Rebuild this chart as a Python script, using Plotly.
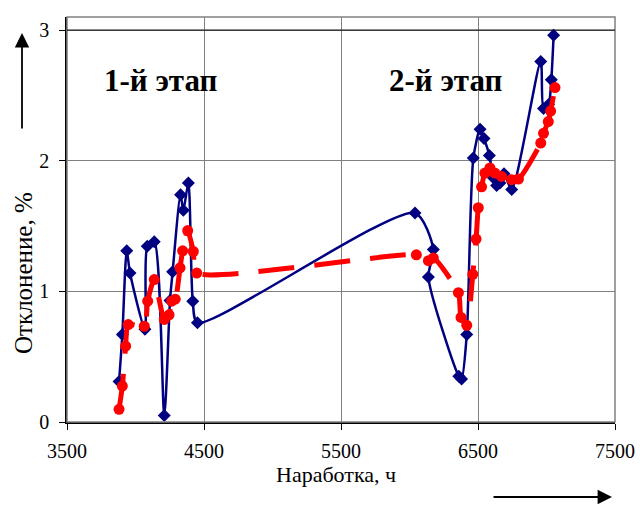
import plotly.graph_objects as go

# Blue series (diamonds)
blue_x = [3880, 3904, 3936, 3960, 4069, 4086, 4137, 4210, 4252, 4271, 4329, 4349, 4386, 4418, 4452,
          6040, 6174, 6138, 6360, 6380, 6418, 6466, 6515, 6544, 6583, 6612, 6636, 6660, 6690, 6746,
          6958, 6978, 7015, 7035, 7052]
blue_y = [0.31, 0.67, 1.31, 1.14, 0.71, 1.345, 1.38, 0.05, 0.93, 1.15, 1.74, 1.62, 1.83, 0.925, 0.76,
          1.60, 1.32, 1.11, 0.35, 0.33, 0.67, 2.02, 2.24, 2.17, 2.04, 1.87, 1.81, 1.83, 1.90, 1.78,
          2.76, 2.40, 2.43, 2.62, 2.96]

# Red series (circles)
red_x = [3880, 3904, 3928, 3947, 4064, 4089, 4137, 4210, 4245, 4264, 4290, 4325, 4344, 4381, 4422, 4447,
         6050, 6138, 6174, 6357, 6376, 6418, 6462, 6486, 6502, 6526, 6550, 6587, 6623, 6672, 6746, 6795,
         6958, 6978, 7013, 7030, 7062]
red_y = [0.097, 0.275, 0.58, 0.746, 0.733, 0.925, 1.09, 0.785, 0.82, 0.925, 0.94, 1.18, 1.31, 1.465, 1.305, 1.14,
         1.28, 1.235, 1.255, 0.99, 0.80, 0.74, 1.13, 1.40, 1.64, 1.80, 1.905, 1.945, 1.905, 1.88, 1.855, 1.86,
         2.135, 2.21, 2.30, 2.38, 2.56]

x_ticks = [3500, 4500, 5500, 6500, 7500]
y_ticks = [0, 1, 2, 3]

fig = go.Figure()
fig.add_trace(go.Scatter(
    x=blue_x, y=blue_y, mode="lines+markers",
    line=dict(color="#000080", width=2.5, shape="spline", smoothing=0.7),
    marker=dict(symbol="diamond", size=10, color="#000080"),
    showlegend=False))
fig.add_trace(go.Scatter(
    x=red_x, y=red_y, mode="lines+markers",
    line=dict(color="#FF0000", width=5, dash="36px,20px", shape="spline", smoothing=0.6),
    marker=dict(symbol="circle", size=11, color="#FF0000"),
    showlegend=False))

serif = "Liberation Serif"

fig.update_layout(
    width=640, height=508,
    margin=dict(l=67, r=25, t=17, b=86, autoexpand=False),
    paper_bgcolor="white", plot_bgcolor="white",
    font=dict(family=serif, color="black", size=20),
    xaxis=dict(range=[3500, 7500], tickvals=x_ticks, ticktext=[str(v) for v in x_ticks],
               showgrid=True, gridcolor="#808080", gridwidth=1,
               showline=True, linecolor="black", linewidth=2,
               ticks="outside", ticklen=6, tickcolor="black",
               ticklabelstandoff=4, zeroline=False, automargin=False,
               tickfont=dict(family=serif, size=20, color="black")),
    yaxis=dict(range=[0, 3.1], tickvals=y_ticks, ticktext=[str(v) for v in y_ticks],
               showgrid=True, gridcolor="#808080", gridwidth=1,
               showline=True, linecolor="black", linewidth=1.5,
               ticks="outside", ticklen=6, tickcolor="black",
               ticklabelstandoff=6, zeroline=False, automargin=False,
               tickfont=dict(family=serif, size=20, color="black")),
    shapes=[
        dict(type="rect", xref="paper", yref="paper", x0=0, y0=0, x1=1, y1=1,
             line=dict(color="#808080", width=1.5)),
        dict(type="line", xref="paper", yref="y", x0=0, x1=1, y0=3, y1=3,
             line=dict(color="black", width=1)),
    ],
    annotations=[
        dict(text="<b>1-й этап</b>", x=(161 - 67) / 548, y=(422 - 81) / 405, xref="paper", yref="paper",
             showarrow=False, font=dict(family=serif, size=31, color="black"), xanchor="center", yanchor="middle"),
        dict(text="<b>2-й этап</b>", x=(446 - 67) / 548, y=(422 - 81) / 405, xref="paper", yref="paper",
             showarrow=False, font=dict(family=serif, size=31, color="black"), xanchor="center", yanchor="middle"),
        dict(text="Наработка, ч", x=(336 - 67) / 548, y=(422 - 474) / 405, xref="paper", yref="paper",
             showarrow=False, font=dict(family=serif, size=22, color="black"), xanchor="center", yanchor="middle"),
        dict(text="Отклонение, %", x=(23 - 67) / 548, y=(422 - 273) / 405, xref="paper", yref="paper",
             showarrow=False, textangle=-90, font=dict(family=serif, size=25, color="black"),
             xanchor="center", yanchor="middle"),
        dict(text="", x=(22 - 67) / 548, y=(422 - 33) / 405, xref="paper", yref="paper",
             showarrow=True, ax=0, ay=97, arrowhead=2, arrowsize=1.6, arrowwidth=1.8, arrowcolor="black"),
        dict(text="", x=(612 - 67) / 548, y=(422 - 497) / 405, xref="paper", yref="paper",
             showarrow=True, ax=-120, ay=0, arrowhead=2, arrowsize=1.6, arrowwidth=1.8, arrowcolor="black"),
    ],
)

fig.write_html("out.html", config={"displayModeBar": False},
               post_script="document.body.style.margin='0px';")
